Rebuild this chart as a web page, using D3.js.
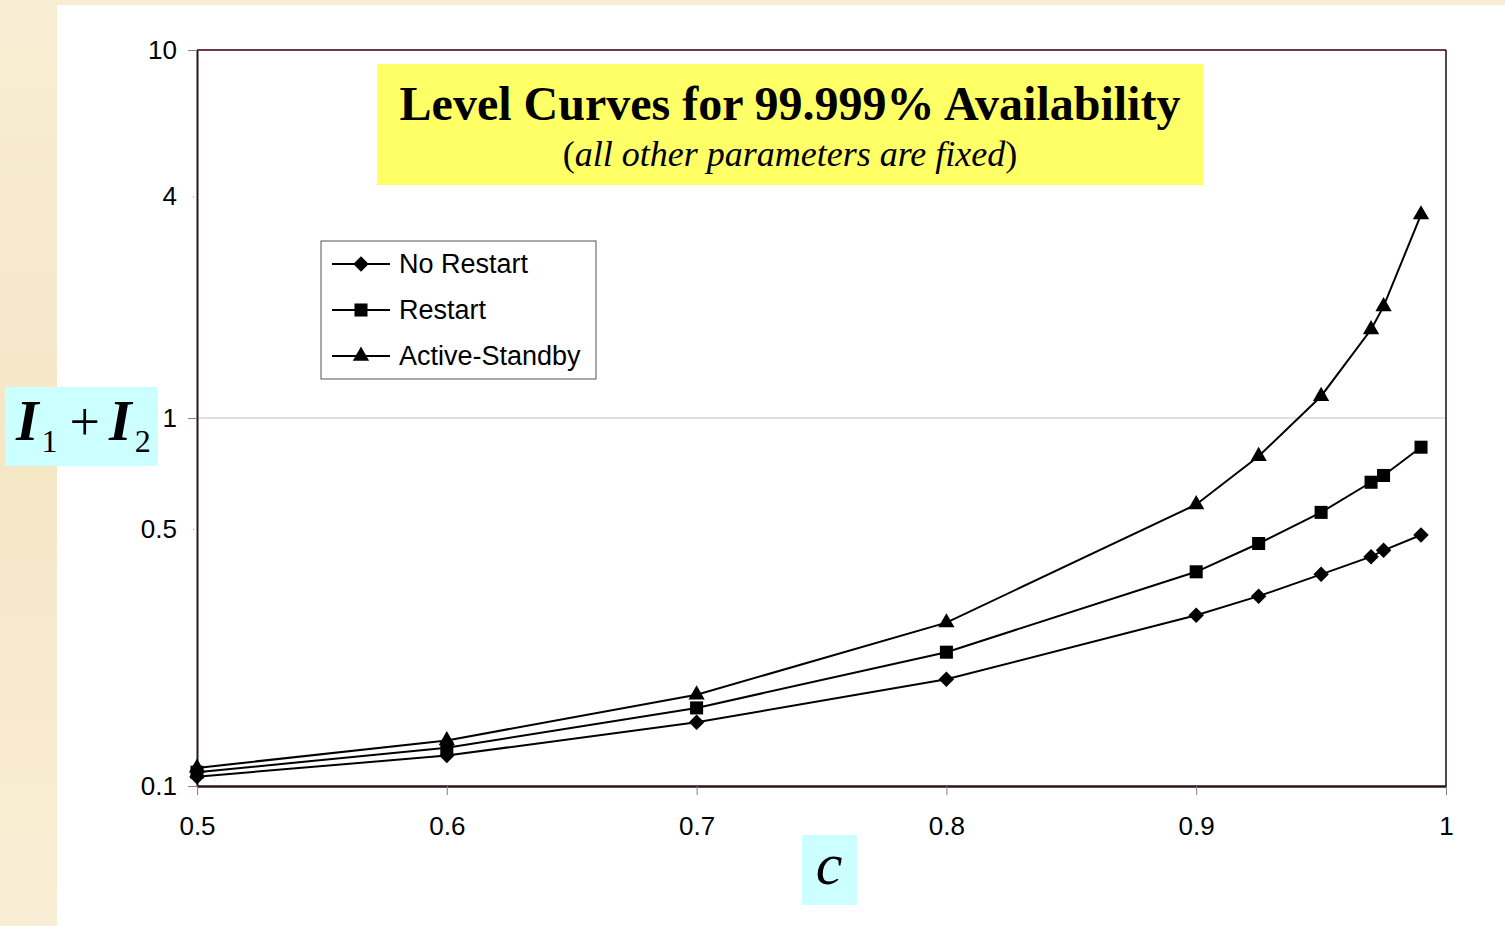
<!DOCTYPE html>
<html>
<head>
<meta charset="utf-8">
<script src="https://cdn.jsdelivr.net/npm/d3@7"></script>
<style>
	body { margin: 0; background: #f6e8c8; }
</style>
</head>
<body>
<script>
// data
let cValues = [0.5, 0.6, 0.7, 0.8, 0.9, 0.925, 0.95, 0.97, 0.975, 0.99];
let noRestart = [0.106, 0.121, 0.149, 0.195, 0.291, 0.328, 0.376, 0.420, 0.437, 0.481];
let restart = [0.109, 0.127, 0.163, 0.231, 0.382, 0.456, 0.554, 0.669, 0.698, 0.833];
let activeStandby = [0.112, 0.133, 0.177, 0.278, 0.582, 0.787, 1.146, 1.740, 2.01, 3.57];
let seriesNames = ["No Restart", "Restart", "Active-Standby"];
let xTicks = [0.5, 0.6, 0.7, 0.8, 0.9, 1];
let yTicks = [0.1, 0.5, 1, 4, 10];

let svg = d3.select("body").append("svg")
	.attr("width", 1505)
	.attr("height", 926)
	.style("display", "block");

let width = +svg.attr("width");
let height = +svg.attr("height");

// parchment background with the white slide area
let grad = svg.append("defs").append("linearGradient")
	.attr("id", "parch").attr("x1", 0).attr("y1", 0).attr("x2", 0).attr("y2", 1);
grad.append("stop").attr("offset", "0%").attr("stop-color", "#f8edd3");
grad.append("stop").attr("offset", "50%").attr("stop-color", "#f5e6c6");
grad.append("stop").attr("offset", "100%").attr("stop-color", "#f9eed5");
svg.append("rect").attr("width", width).attr("height", height).attr("fill", "url(#parch)");
svg.append("rect").attr("x", 57).attr("y", 5).attr("width", width - 57).attr("height", height - 5).attr("fill", "white");

let margin = { top: 50, right: 59, bottom: 140, left: 197 };
let innerWidth = width - margin.left - margin.right;
let innerHeight = height - margin.top - margin.bottom;

let scaleX = d3.scaleLinear().domain([0.5, 1]).range([0, innerWidth]);
let scaleY = d3.scaleLog().domain([0.1, 10]).range([innerHeight, 0]);

let g = svg.append("g").attr("transform", `translate(${margin.left}, ${margin.top})`);

// gridline at 1
g.append("line")
	.attr("x1", 0).attr("x2", innerWidth)
	.attr("y1", scaleY(1)).attr("y2", scaleY(1))
	.attr("stroke", "#c0c0c0").attr("stroke-width", 1);

// plot border top + right
g.append("line").attr("x1", 0).attr("x2", innerWidth).attr("y1", 0).attr("y2", 0)
	.attr("stroke", "#6b3a48").attr("stroke-width", 2);
g.append("line").attr("x1", innerWidth).attr("x2", innerWidth).attr("y1", 0).attr("y2", innerHeight)
	.attr("stroke", "#1a0a0a").attr("stroke-width", 1.5);

// y axis
let yAxis = d3.axisLeft(scaleY).tickValues(yTicks).tickFormat(d3.format("")).tickSizeOuter(0);
let yG = g.append("g").call(yAxis);
yG.select(".domain").attr("stroke", "#2a1515").attr("stroke-width", 2);
yG.selectAll(".tick line")
	.attr("stroke", "#808080")
	.attr("x2", d => (d === 4 || d === 0.5) ? -4 : -9)
	.attr("x1", d => (d === 4 || d === 0.5) ? -3 : 0);
yG.selectAll(".tick text")
	.attr("font-family", "Liberation Sans, Arial, sans-serif")
	.attr("font-size", 26).attr("fill", "black")
	.attr("x", -20);

// x axis
let xAxis = d3.axisBottom(scaleX).tickValues(xTicks).tickFormat(d3.format("")).tickSize(9).tickSizeOuter(0).tickPadding(22);
let xG = g.append("g").attr("transform", `translate(0, ${innerHeight})`).call(xAxis);
xG.select(".domain").attr("stroke", "#2a1515").attr("stroke-width", 2.5);
xG.selectAll(".tick line").attr("stroke", "#808080");
xG.selectAll(".tick text")
	.attr("font-family", "Liberation Sans, Arial, sans-serif")
	.attr("font-size", 26).attr("fill", "black");

// series
let allSeries = [noRestart, restart, activeStandby];
let symbols = [
	d3.symbol().type(d3.symbolSquare).size(120),
	d3.symbol().type(d3.symbolSquare).size(170),
	d3.symbol().type(d3.symbolTriangle).size(115)
];
let rotations = [45, 0, 0];

let line = d3.line()
	.x(d => scaleX(d[0]))
	.y(d => scaleY(d[1]));

allSeries.forEach((vals, i) => {
	let pts = cValues.map((c, j) => [c, vals[j]]);
	g.append("path")
		.datum(pts)
		.attr("d", line)
		.attr("fill", "none")
		.attr("stroke", "black")
		.attr("stroke-width", 2);
	g.selectAll(".m" + i).data(pts).enter().append("path")
		.attr("class", "m" + i)
		.attr("d", symbols[i])
		.attr("transform", d => `translate(${scaleX(d[0])}, ${scaleY(d[1])}) rotate(${rotations[i]})`)
		.attr("fill", "black");
});

// legend
let legend = svg.append("g").attr("transform", "translate(321, 241)");
legend.append("rect").attr("width", 275).attr("height", 138)
	.attr("fill", "white").attr("stroke", "#555").attr("stroke-width", 1);
seriesNames.forEach((name, i) => {
	let y = 23 + i * 46;
	legend.append("line").attr("x1", 11).attr("x2", 69).attr("y1", y).attr("y2", y)
		.attr("stroke", "black").attr("stroke-width", 2);
	legend.append("path").attr("d", symbols[i])
		.attr("transform", `translate(40, ${y}) rotate(${rotations[i]})`)
		.attr("fill", "black");
	legend.append("text").attr("x", 78).attr("y", y + 9)
		.attr("font-family", "Liberation Sans, Arial, sans-serif")
		.attr("font-size", 27).text(name);
});

// title box
svg.append("rect").attr("x", 377).attr("y", 64).attr("width", 826).attr("height", 121).attr("fill", "#ffff66");
svg.append("text").attr("x", 790).attr("y", 120)
	.attr("text-anchor", "middle")
	.attr("font-family", "Liberation Serif, Times New Roman, serif")
	.attr("font-weight", "bold").attr("font-size", 48)
	.text("Level Curves for 99.999% Availability");
let sub = svg.append("text").attr("x", 790).attr("y", 166)
	.attr("text-anchor", "middle")
	.attr("font-family", "Liberation Serif, Times New Roman, serif")
	.attr("font-size", 36);
sub.append("tspan").text("(");
sub.append("tspan").attr("font-style", "italic").text("all other parameters are fixed");
sub.append("tspan").text(")");

// y label box
svg.append("rect").attr("x", 5).attr("y", 387).attr("width", 153).attr("height", 79).attr("fill", "#ccffff");
let yl = svg.append("text").attr("x", 16).attr("y", 440)
	.attr("font-family", "Liberation Serif, Times New Roman, serif");
yl.append("tspan").attr("font-size", 58).attr("font-weight", "bold").attr("font-style", "italic").text("I");
yl.append("tspan").attr("font-size", 32).attr("dy", 12).attr("dx", 3).text("1");
yl.append("tspan").attr("font-size", 54).attr("dy", -12).attr("dx", 12).text("+");
yl.append("tspan").attr("font-size", 58).attr("font-weight", "bold").attr("font-style", "italic").attr("dx", 9).text("I");
yl.append("tspan").attr("font-size", 32).attr("dy", 12).attr("dx", 3).text("2");

// x label box
svg.append("rect").attr("x", 802).attr("y", 835).attr("width", 55).attr("height", 70).attr("fill", "#ccffff");
svg.append("text").attr("x", 829).attr("y", 884)
	.attr("text-anchor", "middle")
	.attr("font-family", "Liberation Serif, Times New Roman, serif")
	.attr("font-style", "italic").attr("font-size", 60)
	.text("c");
</script>
</body>
</html>
